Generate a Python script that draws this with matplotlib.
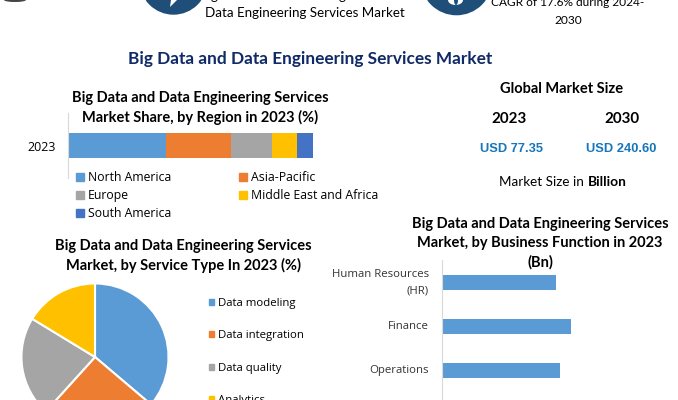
import matplotlib
matplotlib.use('Agg')
import matplotlib.pyplot as plt
from matplotlib.patches import Circle, Ellipse, Polygon, Patch

# data
regions = ['North America', 'Asia-Pacific', 'Europe', 'Middle East and Africa', 'South America']
regionShare = [40.2, 26.3, 16.8, 10.2, 6.5]
regionColors = ['#5B9BD5', '#ED7D31', '#A5A5A5', '#FFC000', '#4472C4']
regionYear = ['2023']

services = ['Data modeling', 'Data integration', 'Data quality', 'Analytics']
serviceShare = [36.2, 25.5, 22.0, 16.3]
serviceColors = ['#5B9BD5', '#ED7D31', '#A5A5A5', '#FFC000']

functions = ['Human Resources\n(HR)', 'Finance', 'Operations']
functionValues = [17.8, 20.2, 18.4]

W, H = 678, 400
fig = plt.figure(figsize=(W/100, H/100), dpi=100, facecolor='white')


def axPx(x0, y0, x1, y1):
    # axes from picture pixels, y measured from the top
    return fig.add_axes([x0/W, 1-y1/H, (x1-x0)/W, (y1-y0)/H])


# overlay for the free text and the header icons
bg = fig.add_axes([0, 0, 1, 1])
bg.set_xlim(0, W)
bg.set_ylim(H, 0)
bg.axis('off')


def txt(x, y, s, size, family='Lato', weight='normal', color='black', ha='center', ls=1.35):
    bg.text(x, y, s, fontsize=size, family=family, weight=weight, color=color,
            ha=ha, va='center', linespacing=ls)


# header scraps, cut by the top edge
bg.add_patch(Circle((173.5, -19.3), 34, color='#1F4E79', lw=0))
bg.add_patch(Polygon([(170, 7), (171, 0), (177, 0)], color='white', lw=0))
bg.add_patch(Circle((456.5, -20.7), 36, color='#1F4E79', lw=0))
bg.add_patch(Ellipse((455.5, 0), 15, 10, color='white', lw=0))
bg.add_patch(Ellipse((456, 0), 4, 10, color='#1F4E79', lw=0))
bg.add_patch(Ellipse((15, 0), 22, 4, color='#444444', lw=0))
txt(214, -4, 'g', 9.6)
txt(342, -4, 'g', 9.6)
txt(305, 13, 'Data Engineering Services Market', 9.6)
txt(568, 3, 'CAGR of 17.6% during 2024-', 8.6)
txt(568, 20.5, '2030', 8.6)

txt(310.5, 59, 'Big Data and Data Engineering Services Market', 12.4, weight='bold', color='#0F2A66')

txt(200, 108, 'Big Data and Data Engineering Services\nMarket Share, by Region in 2023 (%)', 10.5, weight='bold')
txt(183, 256, 'Big Data and Data Engineering Services\nMarket, by Service Type In 2023 (%)', 10.5, weight='bold')
txt(540, 243.5, 'Big Data and Data Engineering Services\nMarket, by Business Function in 2023\n(Bn)', 10.5, weight='bold', ls=1.45)

txt(562, 89, 'Global Market Size', 10.5, weight='bold')
txt(509, 119, '2023', 10.9, weight='bold')
txt(622, 119, '2030', 10.9, weight='bold')
txt(511.5, 149.5, 'USD 77.35', 9.3, family='Liberation Sans', weight='bold', color='#1576BC')
txt(621.5, 148.5, 'USD 240.60', 9.3, family='Liberation Sans', weight='bold', color='#1576BC')
txt(499, 182, 'Market Size in', 9.7, ha='left')
txt(588, 182, 'Billion', 9.9, weight='bold', ha='left')

# stacked bar by region
ax1 = axPx(68, 113, 313, 178)
left = 0
for name, share, col in zip(regions, regionShare, regionColors):
    ax1.barh(regionYear, share, left=left, height=1.0, color=col, label=name)
    left += share
ax1.set_xlim(0, 100)
ax1.set_ylim(-1.3, 1.3)
ax1.set_xticks([])
ax1.tick_params(axis='y', length=0, pad=9, labelsize=9)
for lab in ax1.get_yticklabels():
    lab.set_fontfamily('Open Sans')
for s in ['top', 'right', 'bottom']:
    ax1.spines[s].set_visible(False)
ax1.spines['left'].set_color('#D9D9D9')
ax1.patch.set_alpha(0)

order = [0, 2, 4, 1, 3]
handles = [Patch(color=regionColors[i], label=regions[i]) for i in order]
fig.legend(handles=handles, ncol=2, loc='upper left', bbox_to_anchor=(76/W, 1-171/H),
           frameon=False, prop={'family': 'Open Sans', 'size': 8.8}, handlelength=0.65,
           handleheight=0.65, handletextpad=0.3, labelspacing=0.42, columnspacing=5.6,
           borderpad=0, borderaxespad=0)

# pie by service type
ax2 = axPx(20, 282, 170, 432)
ax2.pie(serviceShare, colors=serviceColors, startangle=90, counterclock=False,
        wedgeprops={'edgecolor': 'white', 'linewidth': 1.5})
ax2.set_xlim(-1.02, 1.02)
ax2.set_ylim(-1.02, 1.02)

handles = [Patch(color=c, label=s) for c, s in zip(serviceColors, services)]
fig.legend(handles=handles, loc='upper left', bbox_to_anchor=(209/W, 1-298/H),
           frameon=False, prop={'family': 'Open Sans', 'size': 8.2}, handlelength=0.45,
           handleheight=0.45, handletextpad=0.35, labelspacing=1.88, borderpad=0, borderaxespad=0)

# bars by business function
ax3 = axPx(442, 260, 678, 400)
ax3.barh(range(len(functions)), functionValues, height=0.36, color='#5B9BD5')
ax3.set_xlim(0, 236/6.4)
ax3.set_ylim(2.67, -0.511)
ax3.set_xticks([])
ax3.set_yticks(range(len(functions)))
ax3.set_yticklabels(functions, fontsize=8.2, family='Open Sans', linespacing=1.7, va='center')
ax3.tick_params(axis='y', length=0, pad=9.5, colors='#333333')
for s in ['top', 'right', 'bottom']:
    ax3.spines[s].set_visible(False)
ax3.spines['left'].set_color('#D9D9D9')
ax3.patch.set_alpha(0)

fig.savefig('out.png', dpi=100)
